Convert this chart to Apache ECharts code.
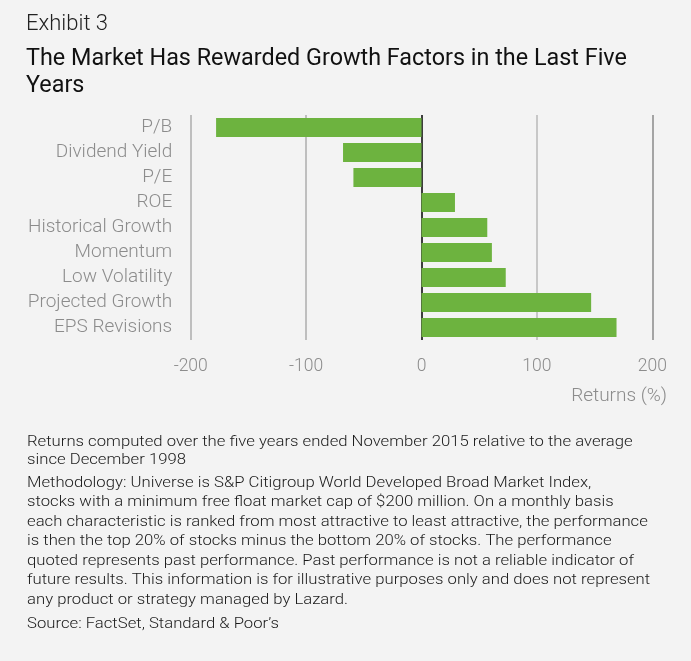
<!DOCTYPE html>
<html>
<head>
<meta charset="utf-8">
<script src="https://cdn.jsdelivr.net/npm/echarts@6/dist/echarts.min.js"></script>
<style>
  html, body { margin: 0; padding: 0; background: #f3f3f3; }
  #chart { width: 691px; height: 661px; }
</style>
</head>
<body>
<div id="chart"></div>
<script>
// 数据
var categories = ['P/B', 'Dividend Yield', 'P/E', 'ROE', 'Historical Growth',
  'Momentum', 'Low Volatility', 'Projected Growth', 'EPS Revisions'];
var returns = [-178, -68, -59, 29, 57, 61, 73, 147, 169];
var xTicks = [-200, -100, 0, 100, 200];

var notes = [
  'Returns computed over the five years ended November 2015 relative to the average',
  'since December 1998'
];
var method = [
  'Methodology: Universe is S&P Citigroup World Developed Broad Market Index,',
  'stocks with a minimum free float market cap of $200 million. On a monthly basis',
  'each characteristic is ranked from most attractive to least attractive, the performance',
  'is then the top 20% of stocks minus the bottom 20% of stocks. The performance',
  'quoted represents past performance. Past performance is not a reliable indicator of',
  'future results. This information is for illustrative purposes only and does not represent',
  'any product or strategy managed by Lazard.'
];
var source = 'Source: FactSet, Standard & Poor\u2019s';

var font = 'Roboto, "Liberation Sans", sans-serif';

// 文字：x 左边, y 行中线, sx 横向拉伸
function textItem(x, y, txt, size, color, weight, sx) {
  return {
    type: 'text', x: x, y: y, scaleX: sx || 1,
    style: {
      x: 0, y: 0, text: txt, fontSize: size, fill: color, fontFamily: font,
      fontWeight: weight || 'normal', align: 'left', verticalAlign: 'middle'
    }
  };
}

var graphics = [];
graphics.push(textItem(26, 24, 'Exhibit 3', 22, '#222', 300));
graphics.push(textItem(26, 59, 'The Market Has Rewarded Growth Factors in the Last Five', 23, '#111', 400, 1.016));
graphics.push(textItem(26, 86, 'Years', 23, '#111', 400, 1.016));
for (var i = 0; i < notes.length; i++) {
  graphics.push(textItem(27, 442 + i * 18.5, notes[i], 15.5, '#1a1a1a', 300, 1.077));
}
for (var j = 0; j < method.length; j++) {
  graphics.push(textItem(27, 483 + j * 19.5, method[j], 15.5, '#1a1a1a', 300, 1.077));
}
graphics.push(textItem(27, 624, source, 15.5, '#1a1a1a', 300, 1.077));
graphics.push({
  type: 'text', x: 667, y: 396,
  style: {
    x: 0, y: 0, text: 'Returns (%)', fontSize: 19, fill: '#8c8c8c', fontFamily: font,
    fontWeight: 300, align: 'right', verticalAlign: 'middle'
  }
});

var myChart = echarts.init(document.getElementById('chart'));
myChart.setOption({
  backgroundColor: '#f3f3f3',
  animation: false,
  textStyle: { fontFamily: font },
  grid: { left: 190.7, width: 461.6, top: 115, height: 225, containLabel: false },
  xAxis: {
    type: 'value',
    min: xTicks[0],
    max: xTicks[xTicks.length - 1],
    interval: 100,
    axisLine: { show: false },
    axisTick: { show: false },
    axisLabel: { color: '#8c8c8c', fontSize: 17.5, margin: 18, fontWeight: 300 },
    splitLine: {
      show: true,
      lineStyle: { color: ['#acacac', '#acacac', '#000000', '#b8b8b8', '#8a8a8a'], width: 1.5 }
    }
  },
  yAxis: {
    type: 'category',
    data: categories,
    inverse: true,
    axisLine: { show: false },
    axisTick: { show: false },
    axisLabel: { color: '#8c8c8c', fontSize: 19, margin: 18.5, fontWeight: 300 }
  },
  series: [{
    type: 'bar',
    data: returns,
    barCategoryGap: '24%',
    itemStyle: { color: '#6db33f' }
  }],
  graphic: graphics
});
</script>
</body>
</html>
